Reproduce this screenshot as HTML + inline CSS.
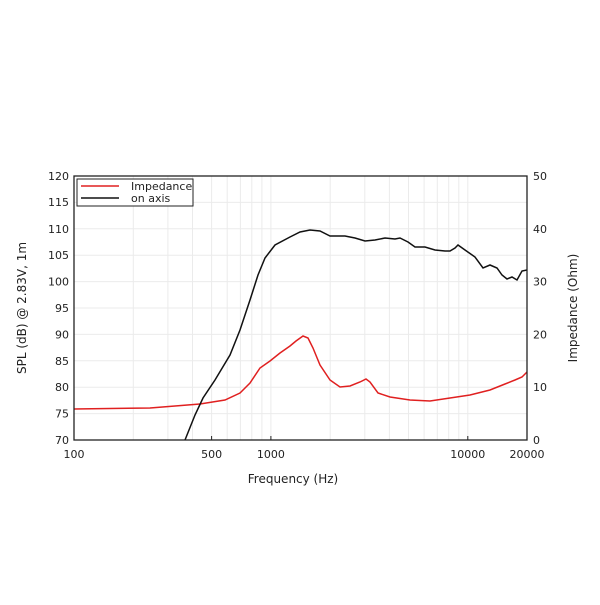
<!DOCTYPE html><html><head><style>body{margin:0;background:#fff}</style></head><body>
<svg width="600" height="600" xmlns="http://www.w3.org/2000/svg" font-family="DejaVu Sans, Liberation Sans, sans-serif">
<g stroke="#ebebeb" stroke-width="1">
<line x1="74" x2="527" y1="202.4" y2="202.4"/><line x1="74" x2="527" y1="228.8" y2="228.8"/><line x1="74" x2="527" y1="255.2" y2="255.2"/><line x1="74" x2="527" y1="281.6" y2="281.6"/><line x1="74" x2="527" y1="308" y2="308"/><line x1="74" x2="527" y1="334.4" y2="334.4"/><line x1="74" x2="527" y1="360.8" y2="360.8"/><line x1="74" x2="527" y1="387.2" y2="387.2"/><line x1="74" x2="527" y1="413.6" y2="413.6"/>
<line x1="133.3" x2="133.3" y1="176" y2="440"/><line x1="167.9" x2="167.9" y1="176" y2="440"/><line x1="192.5" x2="192.5" y1="176" y2="440"/><line x1="211.6" x2="211.6" y1="176" y2="440"/><line x1="227.2" x2="227.2" y1="176" y2="440"/><line x1="240.4" x2="240.4" y1="176" y2="440"/><line x1="251.8" x2="251.8" y1="176" y2="440"/><line x1="261.9" x2="261.9" y1="176" y2="440"/><line x1="270.9" x2="270.9" y1="176" y2="440"/><line x1="330.2" x2="330.2" y1="176" y2="440"/><line x1="364.8" x2="364.8" y1="176" y2="440"/><line x1="389.4" x2="389.4" y1="176" y2="440"/><line x1="408.5" x2="408.5" y1="176" y2="440"/><line x1="424.1" x2="424.1" y1="176" y2="440"/><line x1="437.3" x2="437.3" y1="176" y2="440"/><line x1="448.7" x2="448.7" y1="176" y2="440"/><line x1="458.8" x2="458.8" y1="176" y2="440"/><line x1="467.8" x2="467.8" y1="176" y2="440"/>
</g>
<polyline fill="none" stroke="#e02020" stroke-width="1.5" points="74,409 150,408 200,404 225,400 240,393 250,383 260,368 270,361 280,353 290,346 296,341 303,336 308,338 313,348 320,365 330,380 340,387 350,386 360,382 366,379 370,382 378,393 390,397 410,400 430,401 450,398 470,395 490,390 505,384 515,380 522,377 527,372"/>
<polyline fill="none" stroke="#111" stroke-width="1.5" points="185,440 195,415 203,398 215,380 230,355 240,330 250,300 258,275 265,258 275,245 290,237 300,232 310,230 320,231 330,236 345,236 355,238 365,241 375,240 385,238 395,239 400,238 408,242 415,247 425,247 435,250 445,251 450,251 455,248 458,245 465,250 475,257 483,268 490,265 497,268 502,275 507,279 512,277 517,280 522,271 527,270"/>
<rect x="74" y="176" width="453" height="264" fill="none" stroke="#222" stroke-width="1.3"/>
<g stroke="#222"><line x1="211.6" x2="211.6" y1="440" y2="436"/><line x1="270.9" x2="270.9" y1="440" y2="436"/><line x1="467.8" x2="467.8" y1="440" y2="436"/></g>
<rect x="77" y="179" width="116" height="27" fill="#fff" stroke="#222"/>
<line x1="81" x2="119" y1="186" y2="186" stroke="#e02020" stroke-width="1.5"/>
<line x1="81" x2="119" y1="198" y2="198" stroke="#111" stroke-width="1.5"/>
<g font-size="11" fill="#222"><text x="131" y="190">Impedance</text><text x="131" y="202">on axis</text></g>
<g font-size="11" fill="#222" text-anchor="end">
<text x="69" y="180">120</text><text x="69" y="206">115</text><text x="69" y="232.8">110</text><text x="69" y="259.2">105</text><text x="69" y="285.6">100</text><text x="69" y="312">95</text><text x="69" y="338.4">90</text><text x="69" y="364.8">85</text><text x="69" y="391.2">80</text><text x="69" y="417.6">75</text><text x="69" y="444">70</text></g>
<g font-size="11" fill="#222">
<text x="533" y="180">50</text><text x="533" y="232.8">40</text><text x="533" y="285.6">30</text><text x="533" y="338.4">20</text><text x="533" y="391.2">10</text><text x="533" y="444">0</text></g>
<g font-size="11" fill="#222" text-anchor="middle">
<text x="74" y="458">100</text><text x="211.6" y="458">500</text><text x="270.9" y="458">1000</text><text x="467.8" y="458">10000</text><text x="527" y="458">20000</text>
<text x="293" y="483" font-size="12">Frequency (Hz)</text>
<text transform="translate(26,308) rotate(-90)" font-size="12">SPL (dB) @ 2.83V, 1m</text>
<text transform="translate(577,308) rotate(-90)" font-size="12">Impedance (Ohm)</text></g>
</svg></body></html>
